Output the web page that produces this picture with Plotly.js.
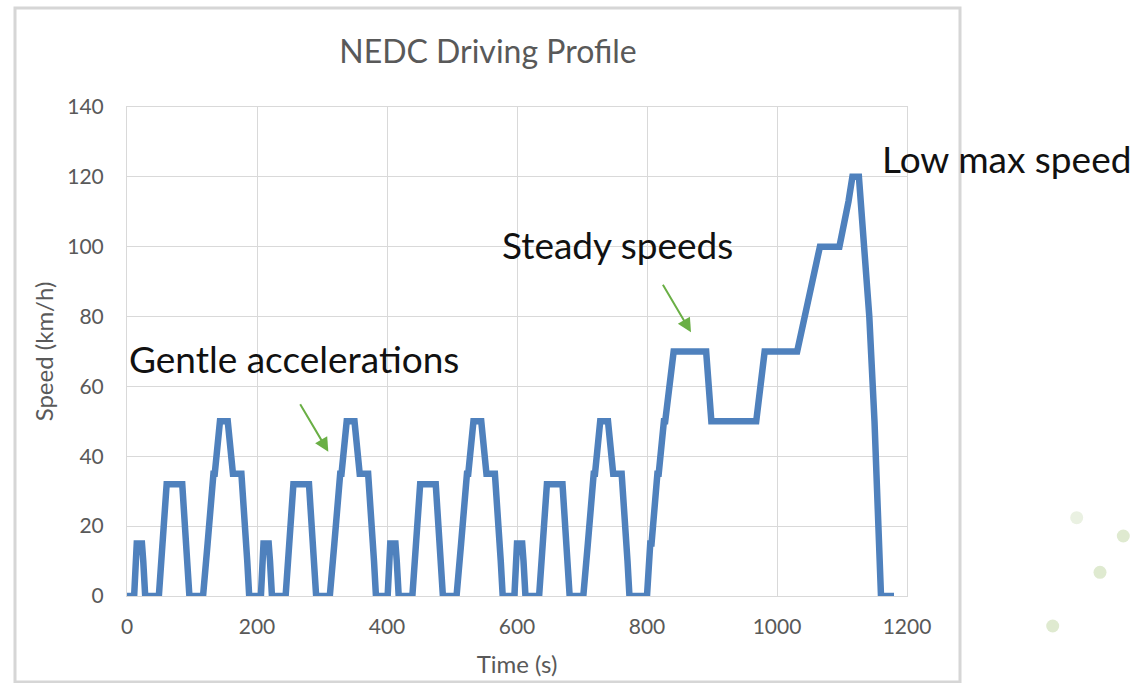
<!DOCTYPE html>
<html>
<head>
<meta charset="utf-8">
<script src="https://cdn.plot.ly/plotly-3.0.1.min.js"></script>
<style>html,body{margin:0;padding:0;background:#fff;}#chart{width:1134px;height:683px;}</style>
</head>
<body>
<div id="chart"></div>
<script>
// NEDC driving profile: breakpoints (time in s, speed in km/h)
const timeS = [
  0, 11, 15, 23, 25, 28, 49, 54, 56, 61, 85, 93, 96, 117, 122, 124, 133, 135, 143, 155, 163, 176, 185, 188,
  195, 206, 210, 218, 220, 223, 244, 249, 251, 256, 280, 288, 291, 312, 317, 319, 328, 330, 338, 350, 358, 371, 380, 383,
  390, 401, 405, 413, 415, 418, 439, 444, 446, 451, 475, 483, 486, 507, 512, 514, 523, 525, 533, 545, 553, 566, 575, 578,
  585, 596, 600, 608, 610, 613, 634, 639, 641, 646, 670, 678, 681, 702, 707, 709, 718, 720, 728, 740, 748, 761, 770, 773,
  780, 800, 805, 807, 816, 818, 826, 828, 841, 891, 899, 968, 981, 1031, 1066, 1096, 1110, 1116, 1126, 1142, 1150, 1160, 1180
];
const speedKmh = [
  0, 0, 15, 15, 10, 0, 0, 15, 15, 32, 32, 10, 0, 0, 15, 15, 35, 35, 50, 50, 35, 35, 10, 0,
  0, 0, 15, 15, 10, 0, 0, 15, 15, 32, 32, 10, 0, 0, 15, 15, 35, 35, 50, 50, 35, 35, 10, 0,
  0, 0, 15, 15, 10, 0, 0, 15, 15, 32, 32, 10, 0, 0, 15, 15, 35, 35, 50, 50, 35, 35, 10, 0,
  0, 0, 15, 15, 10, 0, 0, 15, 15, 32, 32, 10, 0, 0, 15, 15, 35, 35, 50, 50, 35, 35, 10, 0,
  0, 0, 15, 15, 35, 35, 50, 50, 70, 70, 50, 50, 70, 70, 100, 100, 113, 120, 120, 80, 50, 0, 0
];
const xTicks = [0, 200, 400, 600, 800, 1000, 1200];
const yTicks = [0, 20, 40, 60, 80, 100, 120, 140];
const chartTitle = 'NEDC Driving Profile';
const xTitle = 'Time (s)';
const yTitle = 'Speed (km/h)';
const callouts = ['Gentle accelerations', 'Steady speeds', 'Low max speed'];

const FONT = 'Lato, "Open Sans", sans-serif';
const GRID = '#d9d9d9';
const TXT = '#595959';

const trace = {
  type: 'scatter', mode: 'lines',
  x: timeS, y: speedKmh,
  line: {color: '#4f81bd', width: 6.5, shape: 'linear'},
  hoverinfo: 'x+y', showlegend: false
};

function dot(cx, cy, r, color) {
  const x0 = (cx - 127) / 780, y0 = (596 - cy) / 489;
  return {type: 'circle', xref: 'paper', yref: 'paper', layer: 'below',
    x0: x0 - r / 780, x1: x0 + r / 780, y0: y0 - r / 489, y1: y0 + r / 489,
    fillcolor: color, line: {width: 0}};
}

const layout = {
  width: 1134, height: 683,
  margin: {l: 127, r: 227, t: 107, b: 87},
  paper_bgcolor: '#ffffff', plot_bgcolor: '#ffffff',
  font: {family: FONT, color: TXT},
  title: {text: chartTitle, font: {family: FONT, size: 32, color: TXT},
    xref: 'paper', x: 0.4628, xanchor: 'center', yref: 'container', y: 1 - 52 / 683, yanchor: 'middle'},
  xaxis: {
    range: [0, 1200], tickvals: xTicks, ticktext: xTicks.map(String),
    showgrid: true, gridcolor: GRID, gridwidth: 1, zeroline: false,
    showline: true, linecolor: GRID, linewidth: 1, mirror: true,
    ticks: '', ticklabelstandoff: 12, tickfont: {family: FONT, size: 21, color: TXT},
    title: {text: xTitle, font: {family: FONT, size: 24, color: TXT}, standoff: 18}
  },
  yaxis: {
    range: [0, 140], tickvals: yTicks, ticktext: yTicks.map(String),
    showgrid: true, gridcolor: GRID, gridwidth: 1, zeroline: false,
    showline: true, linecolor: GRID, linewidth: 1, mirror: true,
    ticks: '', ticklabelstandoff: 18, tickfont: {family: FONT, size: 21, color: TXT},
    title: {text: yTitle, font: {family: FONT, size: 24, color: TXT}, standoff: 6}
  },
  shapes: [
    {type: 'rect', xref: 'paper', yref: 'paper', layer: 'below',
      x0: (15 - 127) / 780, x1: (960 - 127) / 780, y0: (596 - 682) / 489, y1: (596 - 8) / 489,
      line: {color: '#d6d6d6', width: 3}, fillcolor: 'rgba(0,0,0,0)'},
    dot(1076.7, 517.7, 6.5, '#eaf1e2'),
    dot(1123.3, 536, 6.5, '#dfead0'),
    dot(1100, 572.3, 6.5, '#dfead0'),
    dot(1052.7, 626, 6.5, '#dfead0')
  ],
  annotations: [
    {text: callouts[0], x: 0, y: 68.1, xref: 'x', yref: 'y', xanchor: 'left', yanchor: 'middle',
      showarrow: false, font: {family: FONT, size: 37, color: '#111111'}},
    {text: callouts[1], x: 573.8, y: 100.5, xref: 'x', yref: 'y', xanchor: 'left', yanchor: 'middle',
      showarrow: false, font: {family: FONT, size: 37, color: '#111111'}},
    {text: callouts[2], x: 1158.5, y: 125.4, xref: 'x', yref: 'y', xanchor: 'left', yanchor: 'middle',
      showarrow: false, font: {family: FONT, size: 37, color: '#111111'}},
    {text: '', x: 309.7, y: 41.3, xref: 'x', yref: 'y', showarrow: true, ax: -29, ay: -49,
      arrowcolor: '#6aaf45', arrowwidth: 2, arrowhead: 2, arrowsize: 1.4, standoff: 0, startstandoff: 0},
    {text: '', x: 867.7, y: 75.5, xref: 'x', yref: 'y', showarrow: true, ax: -29, ay: -49,
      arrowcolor: '#6aaf45', arrowwidth: 2, arrowhead: 2, arrowsize: 1.4, standoff: 0, startstandoff: 0}
  ]
};

Plotly.newPlot('chart', [trace], layout, {staticPlot: true, displayModeBar: false});
</script>
</body>
</html>
